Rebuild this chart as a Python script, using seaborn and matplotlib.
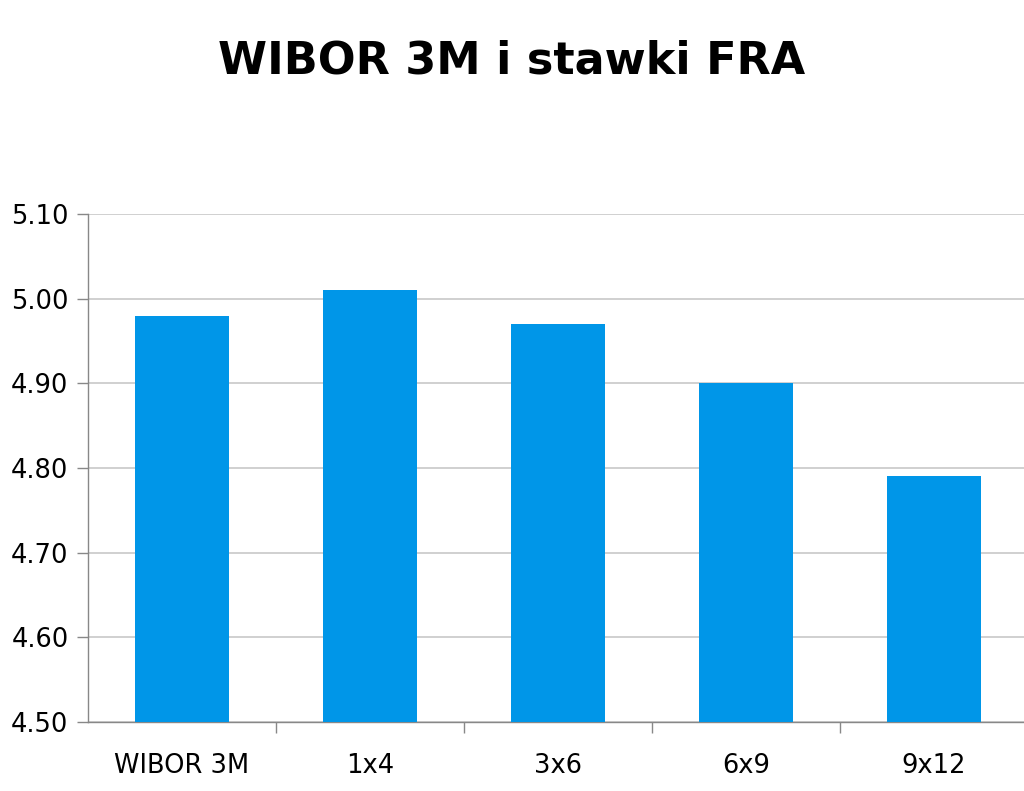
import pandas as pd
import matplotlib
matplotlib.use("Agg")
import matplotlib.pyplot as plt
import seaborn as sns

# Chart data
categories = ["WIBOR 3M", "1x4", "3x6", "6x9", "9x12"]
rates = [4.98, 5.01, 4.97, 4.90, 4.79]
y_ticks = [4.50, 4.60, 4.70, 4.80, 4.90, 5.00, 5.10]

df = pd.DataFrame({"termin": categories, "stawka": rates})

sns.set_style("white")
plt.rcParams["font.family"] = ["DejaVu Sans"]
plt.rcParams["text.color"] = "black"
plt.rcParams["xtick.color"] = "black"
plt.rcParams["ytick.color"] = "black"

fig = plt.figure(figsize=(10.24, 7.91), dpi=100)
ax = fig.add_axes([88 / 1024, 1 - 722 / 791, 940 / 1024, 508 / 791])

sns.barplot(data=df, x="termin", y="stawka", color="#0096E8", width=0.5,
            saturation=1, linewidth=0, ax=ax, zorder=3)

ax.set_ylim(4.50, 5.10)
ax.set_xlim(-0.5, len(categories) - 0.5)
ax.set_yticks(y_ticks)
ax.set_yticklabels([f"{v:.2f}" for v in y_ticks], fontsize=18.5)
ax.tick_params(axis="x", labelsize=18.5, length=0, pad=22)
ax.tick_params(axis="y", length=8, color="#888888", width=1, pad=6, left=True)
ax.yaxis.grid(True, color="#c8c8c8", linewidth=1.2, zorder=0)
ax.set_axisbelow(True)

# category separator ticks along the x axis
ax.set_xticks([i + 0.5 for i in range(len(categories) - 1)], minor=True)
ax.tick_params(axis="x", which="minor", length=8, color="#888888", width=1, bottom=True)

for side in ["top", "right"]:
    ax.spines[side].set_visible(False)
for side in ["left", "bottom"]:
    ax.spines[side].set_color("#888888")
    ax.spines[side].set_linewidth(1)

ax.set_xlabel("")
ax.set_ylabel("")

fig.text(0.5, 1 - 61 / 791, "WIBOR 3M i stawki FRA", ha="center", va="center",
         fontsize=32, fontweight="bold", color="black")

fig.savefig("out.png", dpi=100)
